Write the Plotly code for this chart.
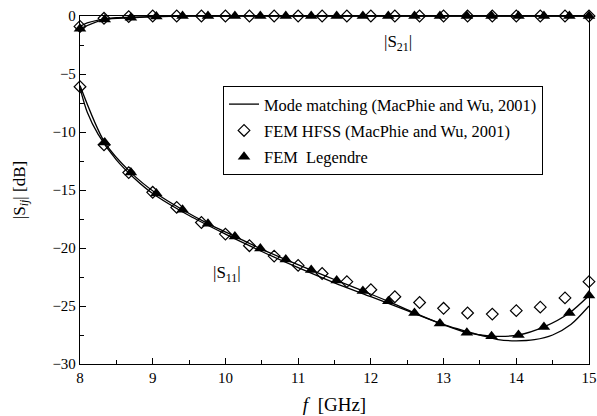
import plotly.graph_objects as go

# Mode matching (MacPhie and Wu, 2001)
mm_f = [8.0, 8.1, 8.25, 8.5, 8.75, 9.0, 9.5, 10.0, 10.5, 11.0, 11.5, 12.0, 12.5, 13.0, 13.5, 13.75, 14.0, 14.25, 14.5, 14.75, 15.0]
mm_s11 = [-6.2, -8.3, -10.2, -12.4, -14.0, -15.3, -17.2, -18.8, -20.3, -21.7, -23.0, -24.2, -25.4, -26.6, -27.5, -27.9, -28.0, -27.9, -27.5, -26.6, -25.0]
mm_s21_f = [8.0, 8.1, 8.25, 8.5, 9.0, 10.0, 11.0, 12.0, 13.0, 14.0, 15.0]
mm_s21 = [-0.9, -0.6, -0.35, -0.15, -0.05, 0.0, 0.0, 0.0, 0.0, 0.0, 0.0]

# FEM HFSS (MacPhie and Wu, 2001)
hfss_f = [8.0, 8.33, 8.67, 9.0, 9.33, 9.67, 10.0, 10.33, 10.67, 11.0, 11.33, 11.67,
          12.0, 12.33, 12.67, 13.0, 13.33, 13.67, 14.0, 14.33, 14.67, 15.0]
hfss_s11 = [-6.1, -11.1, -13.5, -15.2, -16.5, -17.8, -18.8, -19.8, -20.7, -21.5, -22.2, -22.9,
            -23.6, -24.2, -24.7, -25.2, -25.6, -25.7, -25.4, -25.1, -24.3, -22.9]
hfss_s21 = [-0.9, -0.2, -0.05, 0.0, 0.0, 0.0, 0.0, 0.0, 0.0, 0.0, 0.0, 0.0,
            0.0, 0.0, 0.0, 0.0, 0.0, 0.0, 0.0, 0.0, 0.0, 0.0]

# FEM Legendre
leg_f = [8.0, 8.34, 8.70, 9.05, 9.41, 9.76, 10.13, 10.48, 10.83, 11.18, 11.53, 11.89,
         12.24, 12.6, 12.95, 13.32, 13.66, 14.03, 14.38, 14.73, 15.0]
leg_s11 = [None, -10.9, -13.5, -15.3, -16.7, -17.9, -19.0, -20.05, -21.0, -21.9, -22.8, -23.7,
           -24.6, -25.6, -26.5, -27.3, -27.6, -27.5, -26.8, -25.6, -24.1]
leg_s21 = [-1.1, -0.3, -0.15, -0.05, 0.0, 0.0, 0.0, 0.0, 0.0, 0.0, 0.0, 0.0,
           0.0, 0.0, 0.0, 0.0, 0.0, 0.0, 0.0, 0.0, 0.0]
# curve through Legendre results (starts at the 8 GHz value)
leg_line_f = [8.0] + leg_f[1:]
leg_line_s11 = [-6.0] + leg_s11[1:]

FONT = "Liberation Serif, Times New Roman, Times, serif"
fig = go.Figure()

line_style = dict(color="black", width=1.3, shape="spline", smoothing=0.8)

fig.add_trace(go.Scatter(x=leg_line_f, y=leg_line_s11, mode="lines", line=line_style,
                         showlegend=False, hoverinfo="skip"))
fig.add_trace(go.Scatter(x=leg_f, y=leg_s21, mode="lines", line=line_style,
                         showlegend=False, hoverinfo="skip"))

fig.add_trace(go.Scatter(x=mm_f, y=mm_s11, mode="lines", line=line_style,
                         name="Mode matching (MacPhie and Wu, 2001)",
                         legendgroup="a"))
fig.add_trace(go.Scatter(x=mm_s21_f, y=mm_s21, mode="lines", line=line_style,
                         showlegend=False, legendgroup="a"))

dia = dict(symbol="diamond-open", size=9, color="black", line=dict(width=1.2, color="black"))
fig.add_trace(go.Scatter(x=hfss_f, y=hfss_s11, mode="markers", marker=dia,
                         name="FEM HFSS (MacPhie and Wu, 2001)", legendgroup="b",
                         cliponaxis=False))
fig.add_trace(go.Scatter(x=hfss_f, y=hfss_s21, mode="markers", marker=dia,
                         showlegend=False, legendgroup="b", cliponaxis=False))

tri = dict(symbol="triangle-up", size=11, color="black")
fig.add_trace(go.Scatter(x=leg_f, y=leg_s11, mode="markers", marker=tri,
                         name="FEM  Legendre", legendgroup="c", cliponaxis=False))
fig.add_trace(go.Scatter(x=leg_f, y=leg_s21, mode="markers", marker=tri,
                         showlegend=False, legendgroup="c", cliponaxis=False))

fig.add_annotation(x=12.37, y=-2.3, text="|S<sub>21</sub>|", showarrow=False,
                   font=dict(family=FONT, size=17, color="black"))
fig.add_annotation(x=10.02, y=-22.2, text="|S<sub>11</sub>|", showarrow=False,
                   font=dict(family=FONT, size=17, color="black"))

fig.update_layout(
    width=597, height=416,
    margin=dict(l=80, r=8, t=16, b=52, autoexpand=False),
    paper_bgcolor="white", plot_bgcolor="white",
    font=dict(family=FONT, size=15, color="black"),
    legend=dict(x=0.281, y=0.799, xanchor="left", yanchor="top",
                bordercolor="black", borderwidth=1, bgcolor="white",
                font=dict(family=FONT, size=16.4),
                traceorder="grouped", tracegroupgap=2),
)
fig.update_xaxes(range=[8, 15], dtick=1, showgrid=False, zeroline=False, automargin=False,
                 showline=True, linecolor="black", linewidth=1.3, mirror=True,
                 ticks="inside", ticklen=6, tickcolor="black",
                 tickfont=dict(family=FONT, size=15),
                 minor=dict(dtick=0.5, ticks="inside", ticklen=4, tickcolor="black", showgrid=False),
                 title=dict(text="<i>f</i>  [GHz]", font=dict(family=FONT, size=19), standoff=12))
fig.update_yaxes(range=[-30, 0], dtick=5, showgrid=False, zeroline=False, automargin=False,
                 showline=True, linecolor="black", linewidth=1.3, mirror=True,
                 ticks="inside", ticklen=6, tickcolor="black",
                 tickfont=dict(family=FONT, size=15),
                 minor=dict(dtick=2.5, ticks="inside", ticklen=4, tickcolor="black", showgrid=False),
                 tickformat="d",
                 title=dict(text="|S<sub><i>ij</i></sub>| [dB]", font=dict(family=FONT, size=17), standoff=22))

# remove the page's default body margin so the 597x416 figure fills the window exactly
fig.write_html("out.html", config={"displayModeBar": False},
               post_script="document.body.style.margin='0px';document.body.style.overflow='hidden';")
